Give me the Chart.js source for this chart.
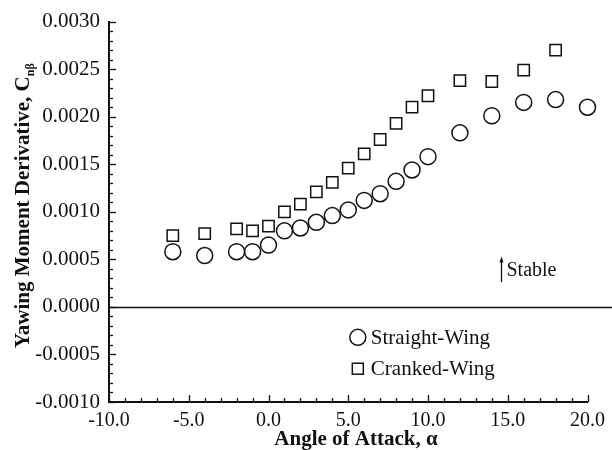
<!DOCTYPE html>
<html>
<head>
<meta charset="utf-8">
<script src="https://cdn.jsdelivr.net/npm/chart.js@4.4.1/dist/chart.umd.min.js"></script>
<style>
  html, body { margin: 0; padding: 0; background: #fff; }
  #wrap { width: 612px; height: 450px; }
</style>
</head>
<body>
<div id="wrap"><canvas id="grafico" width="612" height="450"></canvas></div>
<script>
// angle of attack (deg) and C_nβ for each configuration
const alphaStraight = [-6, -4, -2, -1, 0, 1, 2, 3, 4, 5, 6, 7, 8, 9, 10, 12, 14, 16, 18, 20]
const cnbStraight = [0.00058, 0.00054, 0.00058, 0.00058, 0.00065, 0.00080, 0.00083, 0.00089, 0.00096, 0.00102,
  0.00112, 0.00119, 0.00132, 0.00144, 0.00158, 0.00183, 0.00201, 0.00215, 0.00218, 0.00210]

const alphaCranked = [-6, -4, -2, -1, 0, 1, 2, 3, 4, 5, 6, 7, 8, 9, 10, 12, 14, 16, 18]
const cnbCranked = [0.00075, 0.00077, 0.00082, 0.00080, 0.00085, 0.00100, 0.00108, 0.00121, 0.00131, 0.00146,
  0.00161, 0.00176, 0.00193, 0.00210, 0.00222, 0.00238, 0.00237, 0.00249, 0.00270]

const seriesNames = ['Straight-Wing', 'Cranked-Wing']
const xTicks = [-10, -5, 0, 5, 10, 15, 20]
const yTicks = [-0.0010, -0.0005, 0, 0.0005, 0.0010, 0.0015, 0.0020, 0.0025, 0.0030]

const serif = "'Liberation Serif', 'Times New Roman', serif"
const ink = '#111'

const toPoints = (xs, ys) => xs.map((x, i) => ({ x, y: ys[i] }))

// inward tick marks, zero line, stable arrow, legend and axis titles
const decoraciones = {
  id: 'decoraciones',
  beforeDatasetsDraw(chart) {
    const { ctx, chartArea, scales: { x, y } } = chart
    ctx.save()
    ctx.strokeStyle = ink

    // zero line runs out to the edge of the canvas
    const y0 = Math.round(y.getPixelForValue(0)) + 0.5
    ctx.lineWidth = 1.3
    ctx.beginPath()
    ctx.moveTo(chartArea.left, y0)
    ctx.lineTo(chart.width, y0)
    ctx.stroke()

    // x ticks every 1 deg, major every 5
    ctx.lineWidth = 1.3
    for (let v = -10; v <= 20; v++) {
      const px = Math.round(x.getPixelForValue(v)) + 0.5
      const len = v % 5 === 0 ? 7 : 4
      ctx.beginPath()
      ctx.moveTo(px, chartArea.bottom)
      ctx.lineTo(px, chartArea.bottom - len)
      ctx.stroke()
    }
    // y ticks every 0.0001, major every 0.0005
    for (let k = -10; k <= 30; k++) {
      const py = Math.round(y.getPixelForValue(k / 10000)) + 0.5
      const len = k % 5 === 0 ? 7 : 4
      ctx.beginPath()
      ctx.moveTo(chartArea.left, py)
      ctx.lineTo(chartArea.left + len, py)
      ctx.stroke()
    }
    ctx.restore()
  },
  afterDatasetsDraw(chart) {
    const { ctx, scales: { x, y } } = chart
    ctx.save()
    ctx.fillStyle = ink
    ctx.strokeStyle = ink

    // "Stable" arrow
    const ax = Math.round(x.getPixelForValue(14.6)) + 0.5
    const aTop = y.getPixelForValue(0.00053)
    const aBot = y.getPixelForValue(0.00026)
    ctx.lineWidth = 1.3
    ctx.beginPath()
    ctx.moveTo(ax, aBot)
    ctx.lineTo(ax, aTop + 3)
    ctx.stroke()
    ctx.beginPath()
    ctx.moveTo(ax, aTop)
    ctx.lineTo(ax - 2, aTop + 6)
    ctx.lineTo(ax + 2, aTop + 6)
    ctx.closePath()
    ctx.fill()
    ctx.font = `20px ${serif}`
    ctx.textAlign = 'left'
    ctx.textBaseline = 'middle'
    ctx.fillText('Stable', ax + 5, (aTop + aBot) / 2 + 1)

    // legend
    const lx = x.getPixelForValue(5.6)
    const rows = [y.getPixelForValue(-0.00032), y.getPixelForValue(-0.00065)]
    ctx.lineWidth = 1.5
    ctx.beginPath()
    ctx.arc(lx, rows[0], 8, 0, Math.PI * 2)
    ctx.stroke()
    ctx.strokeRect(lx - 5.5, rows[1] - 5.5, 11, 11)
    ctx.font = `21px ${serif}`
    seriesNames.forEach((name, i) => ctx.fillText(name, lx + 13, rows[i] + 1))

    // x axis title
    ctx.font = `bold 21px ${serif}`
    ctx.textAlign = 'center'
    ctx.textBaseline = 'alphabetic'
    ctx.fillText('Angle of Attack, \u03b1', 356, 445)

    // y axis title with subscript
    ctx.translate(29, 348)
    ctx.rotate(-Math.PI / 2)
    ctx.textAlign = 'left'
    const main = 'Yawing Moment Derivative, C'
    ctx.fillText(main, 0, 0)
    const w = ctx.measureText(main).width
    ctx.font = `bold 12px ${serif}`
    ctx.fillText('n\u03b2', w, 5)
    ctx.restore()
  }
}

new Chart(document.getElementById('grafico'), {
  type: 'scatter',
  data: {
    datasets: [
      {
        label: seriesNames[0],
        data: toPoints(alphaStraight, cnbStraight),
        pointStyle: 'circle',
        pointRadius: 8,
        pointBorderWidth: 1.5,
        borderColor: ink,
        backgroundColor: 'rgba(0,0,0,0)',
        showLine: false,
        clip: false
      },
      {
        label: seriesNames[1],
        data: toPoints(alphaCranked, cnbCranked),
        pointStyle: 'rect',
        pointRadius: 8,
        pointBorderWidth: 1.5,
        borderColor: ink,
        backgroundColor: 'rgba(0,0,0,0)',
        showLine: false,
        clip: false
      }
    ]
  },
  options: {
    responsive: false,
    animation: false,
    events: [],
    layout: { padding: { left: 0, right: 24, top: 17, bottom: 0 } },
    plugins: { legend: { display: false }, tooltip: { enabled: false } },
    scales: {
      x: {
        type: 'linear',
        min: -10,
        max: 20,
        afterBuildTicks: s => { s.ticks = xTicks.map(value => ({ value })) },
        afterFit: s => { s.height = 48 },
        grid: { display: false, drawTicks: false },
        border: { display: true, color: ink, width: 2 },
        ticks: {
          padding: 7,
          maxRotation: 0,
          color: ink,
          font: { family: serif, size: 20 },
          callback: v => v.toFixed(1)
        }
      },
      y: {
        type: 'linear',
        min: -0.0010,
        max: 0.0030,
        afterBuildTicks: s => { s.ticks = yTicks.map(value => ({ value })) },
        afterFit: s => { s.width = 109 },
        grid: { display: false, drawTicks: false },
        border: { display: true, color: ink, width: 2 },
        ticks: {
          padding: 9,
          color: ink,
          font: { family: serif, size: 21 },
          callback: v => v.toFixed(4)
        }
      }
    }
  },
  plugins: [
    { id: 'fondo', beforeDraw: c => { c.ctx.save(); c.ctx.fillStyle = '#fff'; c.ctx.fillRect(0, 0, c.width, c.height); c.ctx.restore() } },
    decoraciones
  ]
})
</script>
</body>
</html>
